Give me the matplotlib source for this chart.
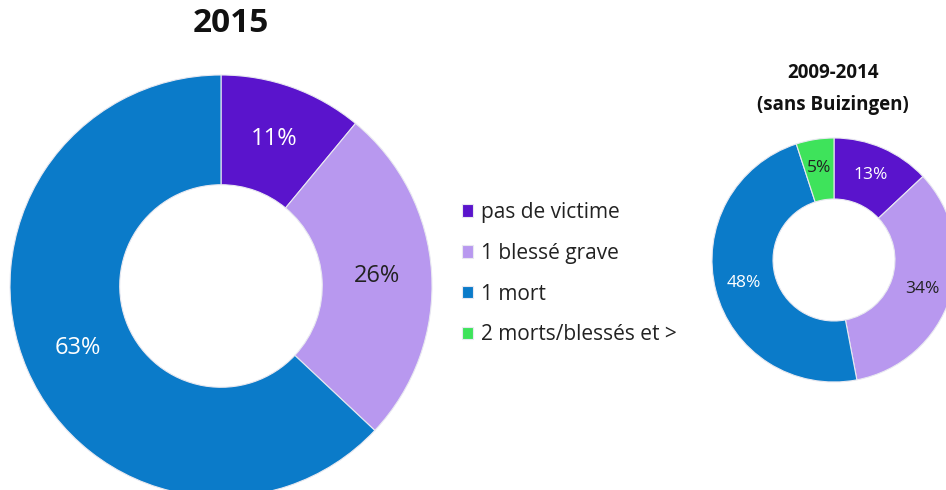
import matplotlib.pyplot as plt

plt.rcParams['font.family'] = ['Open Sans', 'DejaVu Sans']

# données
categories = ["pas de victime", "1 blessé grave", "1 mort", "2 morts/blessés et >"]
vals_2015 = [11, 26, 63, 0]
vals_0914 = [13, 34, 48, 5]
colors = ['#5a14cc', '#b898ef', '#0b7bc9', '#3ee35b']
pct_colors = ['white', '#222222', 'white', '#222222']

W, H = 946, 490
fig = plt.figure(figsize=(W / 100, H / 100), dpi=100)


def donut(cx, cy, r, values, width, pctdist, fsize):
    # cx, cy en pixels depuis le coin haut-gauche
    ax = fig.add_axes([(cx - r) / W, (H - cy - r) / H, 2 * r / W, 2 * r / H])
    vals = [v for v in values if v > 0]
    cols = [c for c, v in zip(colors, values) if v > 0]
    tcols = [c for c, v in zip(pct_colors, values) if v > 0]
    wedges, texts, autotexts = ax.pie(
        vals, colors=cols, startangle=90, counterclock=False,
        autopct='%.0f%%', pctdistance=pctdist,
        wedgeprops=dict(width=width, edgecolor='#e8e8f0', linewidth=0.8),
        textprops=dict(fontsize=fsize))
    for t, c in zip(autotexts, tcols):
        t.set_color(c)
    ax.set_xlim(-1, 1)
    ax.set_ylim(-1, 1)
    return ax, wedges


ax1, w1 = donut(221, 286, 211, vals_2015, 0.52, 0.74, 17)
ax2, w2 = donut(834, 260, 122, vals_0914, 0.5, 0.76, 12.5)

fig.text(231 / W, 1 - 24 / H, "2015", ha='center', va='center',
         fontsize=24, fontweight='bold', color='#111111')
fig.text(833 / W, 1 - 73 / H, "2009-2014", ha='center', va='center',
         fontsize=13.5, fontweight='bold', color='#111111')
fig.text(833 / W, 1 - 105 / H, "(sans Buizingen)", ha='center', va='center',
         fontsize=13.5, fontweight='bold', color='#111111')

leg = fig.legend(w2, categories, loc='upper left',
                 bbox_to_anchor=(462 / W, 1 - 202 / H), frameon=False,
                 fontsize=15, handlelength=0.55, handleheight=0.55,
                 handletextpad=0.35, labelspacing=0.95, borderpad=0,
                 borderaxespad=0)
for t in leg.get_texts():
    t.set_color('#222222')

fig.savefig('out.png', dpi=100)
